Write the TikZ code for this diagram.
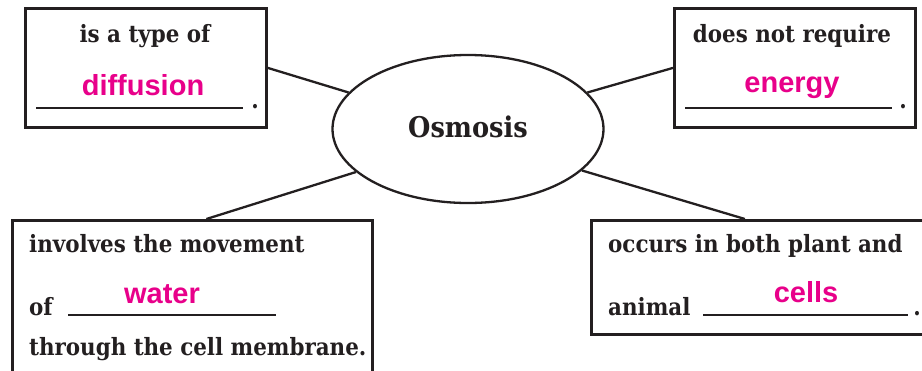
\documentclass[tikz,border=0pt]{standalone}
\usepackage{fontspec}
\setmainfont{DejaVu Serif Condensed}
\newfontfamily\answerfont{Liberation Sans}
\usetikzlibrary{shapes.geometric}
\definecolor{answerpink}{RGB}{232,0,138}
\definecolor{ink}{RGB}{35,31,32}
\begin{document}
\begin{tikzpicture}[x=1pt,y=-1pt,
  frame/.style={draw=ink,line width=2.8pt,rectangle,anchor=north west,inner sep=0pt},
  link/.style={draw=ink,line width=2.3pt},
  blank/.style={draw=ink,line width=2.3pt},
  prompt/.style={text=ink,font=\bfseries\fontsize{23.8}{28}\selectfont,inner sep=0pt},
  answer/.style={text=answerpink,font=\answerfont\bfseries\fontsize{29}{33}\selectfont,inner sep=0pt,anchor=base}]
\useasboundingbox (0,0) rectangle (922,370);
\clip (0,0) rectangle (922,370);
\fill[white] (0,0) rectangle (922,370);

% central concept
\node[ellipse,draw=ink,line width=2.3pt,minimum width=271pt,minimum height=148pt,inner sep=0pt] (osm) at (468,129) {};
\node[text=ink,font=\bfseries\fontsize{28.5}{32}\selectfont,anchor=base,inner sep=0pt] (osmlabel) at (468,137) {Osmosis};

% four fact boxes
\node[frame,minimum width=241pt,minimum height=119pt] (b1) at (24,7) {};
\node[frame,minimum width=241pt,minimum height=119pt] (b2) at (673,7) {};
\node[frame,minimum width=360pt,minimum height=170pt] (b3) at (11,219) {};
\node[frame,minimum width=345pt,minimum height=114pt] (b4) at (590,219) {};

% connectors
\draw[link] (b1.east) -- (osm.163);
\draw[link] (b2.west) -- (osm.17);
\draw[link] (osm.201) -- ([xshift=14pt]b3.north);
\draw[link] (osm.340) -- ([xshift=-19pt]b4.north);

% box 1
\node[prompt,anchor=base] (t1) at (145,42) {is a type of};
\node[answer] (a1) at (143,95) {diffusion};
\coordinate (u1s) at (36,108); \coordinate (u1e) at (243,108);
\draw[blank] (u1s) -- (u1e);
\node[prompt,anchor=base] (d1) at (255,108) {.};

% box 2
\node[prompt,anchor=base] (t2) at (792,42) {does not require};
\node[answer] (a2) at (792,92) {energy};
\coordinate (u2s) at (685,108); \coordinate (u2e) at (892,108);
\draw[blank] (u2s) -- (u2e);
\node[prompt,anchor=base] (d2) at (903,108) {.};

% box 3
\node[prompt,anchor=base west] (t3a) at (29,252) {involves the movement};
\node[prompt,anchor=base west] (t3b) at (29,315) {of};
\node[answer] (a3) at (162,303) {water};
\coordinate (u3s) at (68,315); \coordinate (u3e) at (276,315);
\draw[blank] (u3s) -- (u3e);
\node[prompt,anchor=base west] (t3c) at (29,355) {through the cell membrane.};

% box 4
\node[prompt,anchor=base west] (t4a) at (608,252) {occurs in both plant and};
\node[prompt,anchor=base west] (t4b) at (608,315) {animal};
\node[answer] (a4) at (806,302) {cells};
\coordinate (u4s) at (703,315); \coordinate (u4e) at (908,315);
\draw[blank] (u4s) -- (u4e);
\node[prompt,anchor=base] (d4) at (917,315) {.};
\end{tikzpicture}
\end{document}
